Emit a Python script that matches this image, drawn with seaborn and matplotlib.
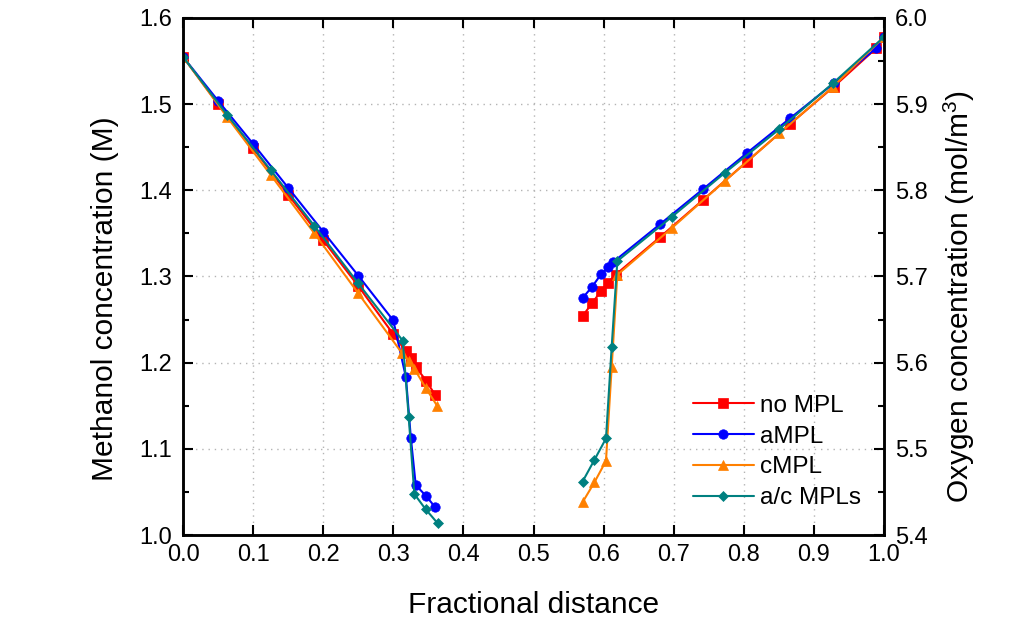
import matplotlib
matplotlib.use("Agg")
import numpy as np
import pandas as pd
import seaborn as sns
import matplotlib.pyplot as plt
from matplotlib.ticker import MultipleLocator, FormatStrFormatter

# ---------------- data ----------------
series_names = ["no MPL", "aMPL", "cMPL", "a/c MPLs"]
series_colors = ["#FF0000", "#0000FF", "#FF8000", "#008080"]
series_markers = ["s", "o", "^", "D"]

# Methanol concentration (left axis)
x_noMPL_meoh = [0.0, 0.05, 0.10, 0.15, 0.20, 0.25, 0.30, 0.318, 0.325, 0.332, 0.347, 0.360]
y_noMPL_meoh = [1.555, 1.500, 1.449, 1.395, 1.342, 1.289, 1.233, 1.213, 1.205, 1.195, 1.179, 1.162]

x_aMPL_meoh = [0.0, 0.05, 0.10, 0.15, 0.20, 0.25, 0.30, 0.318, 0.325, 0.332, 0.347, 0.360]
y_aMPL_meoh = [1.555, 1.504, 1.454, 1.403, 1.352, 1.301, 1.249, 1.183, 1.113, 1.058, 1.045, 1.032]

x_cMPL_meoh = [0.0, 0.0625, 0.125, 0.1875, 0.25, 0.3125, 0.3225, 0.330, 0.346, 0.3625]
y_cMPL_meoh = [1.555, 1.4855, 1.418, 1.350, 1.2805, 1.211, 1.202, 1.193, 1.171, 1.150]

x_acMPL_meoh = [0.0, 0.0625, 0.125, 0.1875, 0.25, 0.3135, 0.322, 0.330, 0.346, 0.3633]
y_acMPL_meoh = [1.555, 1.488, 1.4236, 1.3586, 1.292, 1.2255, 1.1365, 1.0476, 1.030, 1.0136]

# Oxygen concentration (right axis)
x_noMPL_o2 = [0.570, 0.5835, 0.5963, 0.6063, 0.617, 0.681, 0.742, 0.804, 0.866, 0.928, 0.989, 1.0]
y_noMPL_o2 = [5.654, 5.669, 5.683, 5.693, 5.702, 5.746, 5.789, 5.833, 5.877, 5.920, 5.965, 5.978]

x_aMPL_o2 = [0.570, 0.5835, 0.5963, 0.6063, 0.614, 0.681, 0.742, 0.804, 0.866, 0.928, 0.989, 1.0]
y_aMPL_o2 = [5.675, 5.688, 5.7025, 5.711, 5.717, 5.761, 5.8015, 5.843, 5.8836, 5.924, 5.965, 5.978]

x_cMPL_o2 = [0.570, 0.5868, 0.6034, 0.6115, 0.6196, 0.697, 0.7732, 0.8507, 0.9268, 1.0]
y_cMPL_o2 = [5.438, 5.461, 5.486, 5.5946, 5.702, 5.756, 5.811, 5.866, 5.920, 5.978]

x_acMPL_o2 = [0.570, 0.5868, 0.6034, 0.6115, 0.6196, 0.697, 0.7732, 0.8507, 0.9268, 1.0]
y_acMPL_o2 = [5.462, 5.487, 5.512, 5.618, 5.718, 5.769, 5.8205, 5.871, 5.924, 5.978]

x_ticks_major = 0.1
y_ticks_major = 0.1
y_ticks_minor = 0.05


def long_frame(pairs):
    frames = []
    for name, (xs, ys) in zip(series_names, pairs):
        frames.append(pd.DataFrame({"x": xs, "y": ys, "series": name}))
    return pd.concat(frames, ignore_index=True)


df_meoh = long_frame([(x_noMPL_meoh, y_noMPL_meoh), (x_aMPL_meoh, y_aMPL_meoh),
                      (x_cMPL_meoh, y_cMPL_meoh), (x_acMPL_meoh, y_acMPL_meoh)])
df_o2 = long_frame([(x_noMPL_o2, y_noMPL_o2), (x_aMPL_o2, y_aMPL_o2),
                    (x_cMPL_o2, y_cMPL_o2), (x_acMPL_o2, y_acMPL_o2)])

# ---------------- style ----------------
sns.set_theme(style="ticks")
plt.rcParams["font.family"] = ["Liberation Sans", "DejaVu Sans"]
plt.rcParams["mathtext.fontset"] = "custom"
plt.rcParams["mathtext.rm"] = "Liberation Sans"
plt.rcParams["mathtext.default"] = "regular"

fig = plt.figure(figsize=(10.30, 6.28), dpi=100)
ax = fig.add_axes([183 / 1030, 1 - 535 / 628, 701 / 1030, 517 / 628])
ax2 = ax.twinx()

palette = dict(zip(series_names, series_colors))
marker_map = dict(zip(series_names, series_markers))

common = dict(x="x", y="y", hue="series", style="series",
              hue_order=series_names, style_order=series_names,
              palette=palette, markers=marker_map, dashes=False,
              sort=False, estimator=None, legend=False,
              linewidth=1.5, markersize=6.5, markeredgewidth=0.5)

sns.lineplot(data=df_meoh, ax=ax, **common)
sns.lineplot(data=df_o2, ax=ax2, **common)

size_map = {"s": 6.5, "o": 6.8, "^": 7.5, "D": 5.6}
for line in ax.lines + ax2.lines:
    c = line.get_color()
    line.set_markeredgecolor(c)
    line.set_markerfacecolor(c)
    m = line.get_marker()
    if m in size_map:
        line.set_markersize(size_map[m])

# ---------------- axes ----------------
ax.set_xlim(0, 1)
ax.set_ylim(1.0, 1.6)
ax2.set_ylim(5.4, 6.0)

ax.xaxis.set_major_locator(MultipleLocator(x_ticks_major))
ax.yaxis.set_major_locator(MultipleLocator(y_ticks_major))
ax.yaxis.set_minor_locator(MultipleLocator(y_ticks_minor))
ax2.yaxis.set_major_locator(MultipleLocator(y_ticks_major))
ax2.yaxis.set_minor_locator(MultipleLocator(y_ticks_minor))
for a in (ax.xaxis, ax.yaxis, ax2.yaxis):
    a.set_major_formatter(FormatStrFormatter("%.1f"))

tick_fs = 17
ax.tick_params(axis="x", which="major", direction="in", top=True, bottom=True,
               length=7.5, width=1.5, pad=6.5, labelsize=tick_fs, color="black", labelcolor="black")
ax.tick_params(axis="y", which="major", direction="in", left=True, right=False,
               length=7.5, width=1.5, pad=8.0, labelsize=tick_fs, color="black", labelcolor="black")
ax.tick_params(axis="y", which="minor", direction="in", left=True, right=False,
               length=4, width=1.5, color="black")
ax2.tick_params(axis="y", which="major", direction="in", right=True, left=False,
                length=7.5, width=1.5, pad=8, labelsize=tick_fs, color="black", labelcolor="black")
ax2.tick_params(axis="y", which="minor", direction="in", right=True, left=False,
                length=4, width=1.5, color="black")

for a in (ax, ax2):
    for s in a.spines.values():
        s.set_visible(True)
        s.set_linewidth(1.8)
        s.set_color("black")

ax.grid(True, which="major", axis="both", color="#b4b4b4",
        linestyle=(0, (1, 3.5)), linewidth=1.0)
ax.set_axisbelow(True)
ax2.grid(False)

label_fs = 21.5
ax.set_xlabel("Fractional distance", fontsize=label_fs, color="black")
ax.xaxis.set_label_coords(0.5, -0.108)
ax.set_ylabel("Methanol concentration (M)", fontsize=label_fs, color="black")
ax.yaxis.set_label_coords(-0.0913, 0.4565)
ax2.set_ylabel(r"Oxygen concentration (mol/m$^{3}$)", fontsize=label_fs, color="black")
ax2.yaxis.set_label_coords(1.0827, 0.462)

handles = ax.lines[:4]
leg = ax2.legend(handles, series_names, loc="upper left", bbox_to_anchor=(0.7275, 0.271),
                 frameon=False, fontsize=17.5, handlelength=2.5, handletextpad=0.25,
                 labelspacing=0.36, borderpad=0, borderaxespad=0)
for t in leg.get_texts():
    t.set_color("black")

fig.savefig("out.png", dpi=100)
